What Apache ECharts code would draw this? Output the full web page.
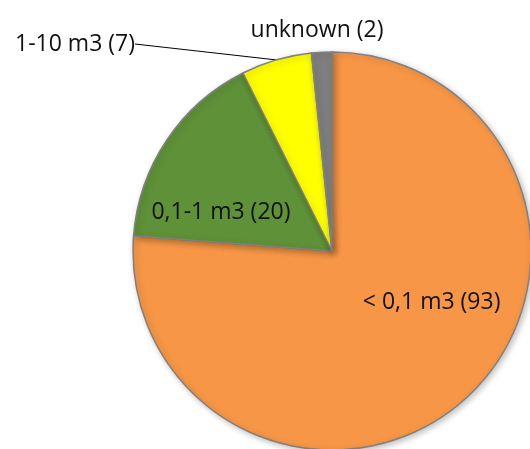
<!DOCTYPE html>
<html>
<head>
<meta charset="utf-8">
<script src="https://cdn.jsdelivr.net/npm/echarts@6/dist/echarts.min.js"></script>
<style>
  html, body { margin: 0; padding: 0; background: #fff; }
  #chart { width: 530px; height: 449px; }
</style>
</head>
<body>
<div id="chart"></div>
<script>
const categories = ["< 0,1 m3", "0,1-1 m3", "1-10 m3", "unknown"];
const counts = [93, 20, 7, 2];
const colors = ["#F79646", "#5F9139", "#FFFF00", "#7F7F7F"];

// where each label sits (the small slices are labelled outside)
const labelSpots = [
  { dx: 30, dy: -24 },
  { dx: -26, dy: 19 },
  { x: 135, y: 44, align: "right" },
  { x: 317, y: 30, align: "center" },
];

const chart = echarts.init(document.getElementById("chart"));

chart.setOption({
  animation: false,
  series: [
    {
      type: "pie",
      center: [332, 251],
      radius: 199,
      startAngle: 90,
      clockwise: true,
      data: categories.map((name, i) => ({
        name,
        value: counts[i],
        itemStyle: { color: colors[i] },
        label: { position: i < 2 ? "inside" : "outside" },
        labelLine: { show: i === 2, length: 1, length2: 0 },
      })),
      itemStyle: {
        borderColor: "#808080",
        borderWidth: 1.5,
        shadowBlur: 6,
        shadowOffsetX: 2,
        shadowOffsetY: 2,
        shadowColor: "rgba(0,0,0,0.25)",
      },
      label: {
        formatter: "{b} ({c})",
        fontFamily: "Open Sans",
        fontSize: 23,
        color: "#111",
      },
      labelLine: {
        lineStyle: { color: "#000", width: 1 },
      },
      labelLayout: (params) => {
        const spot = labelSpots[params.dataIndex];
        if (spot.x !== undefined) {
          return { x: spot.x, y: spot.y, align: spot.align, verticalAlign: "middle" };
        }
        return { dx: spot.dx, dy: spot.dy };
      },
      emphasis: { disabled: true },
    },
  ],
});
</script>
</body>
</html>
